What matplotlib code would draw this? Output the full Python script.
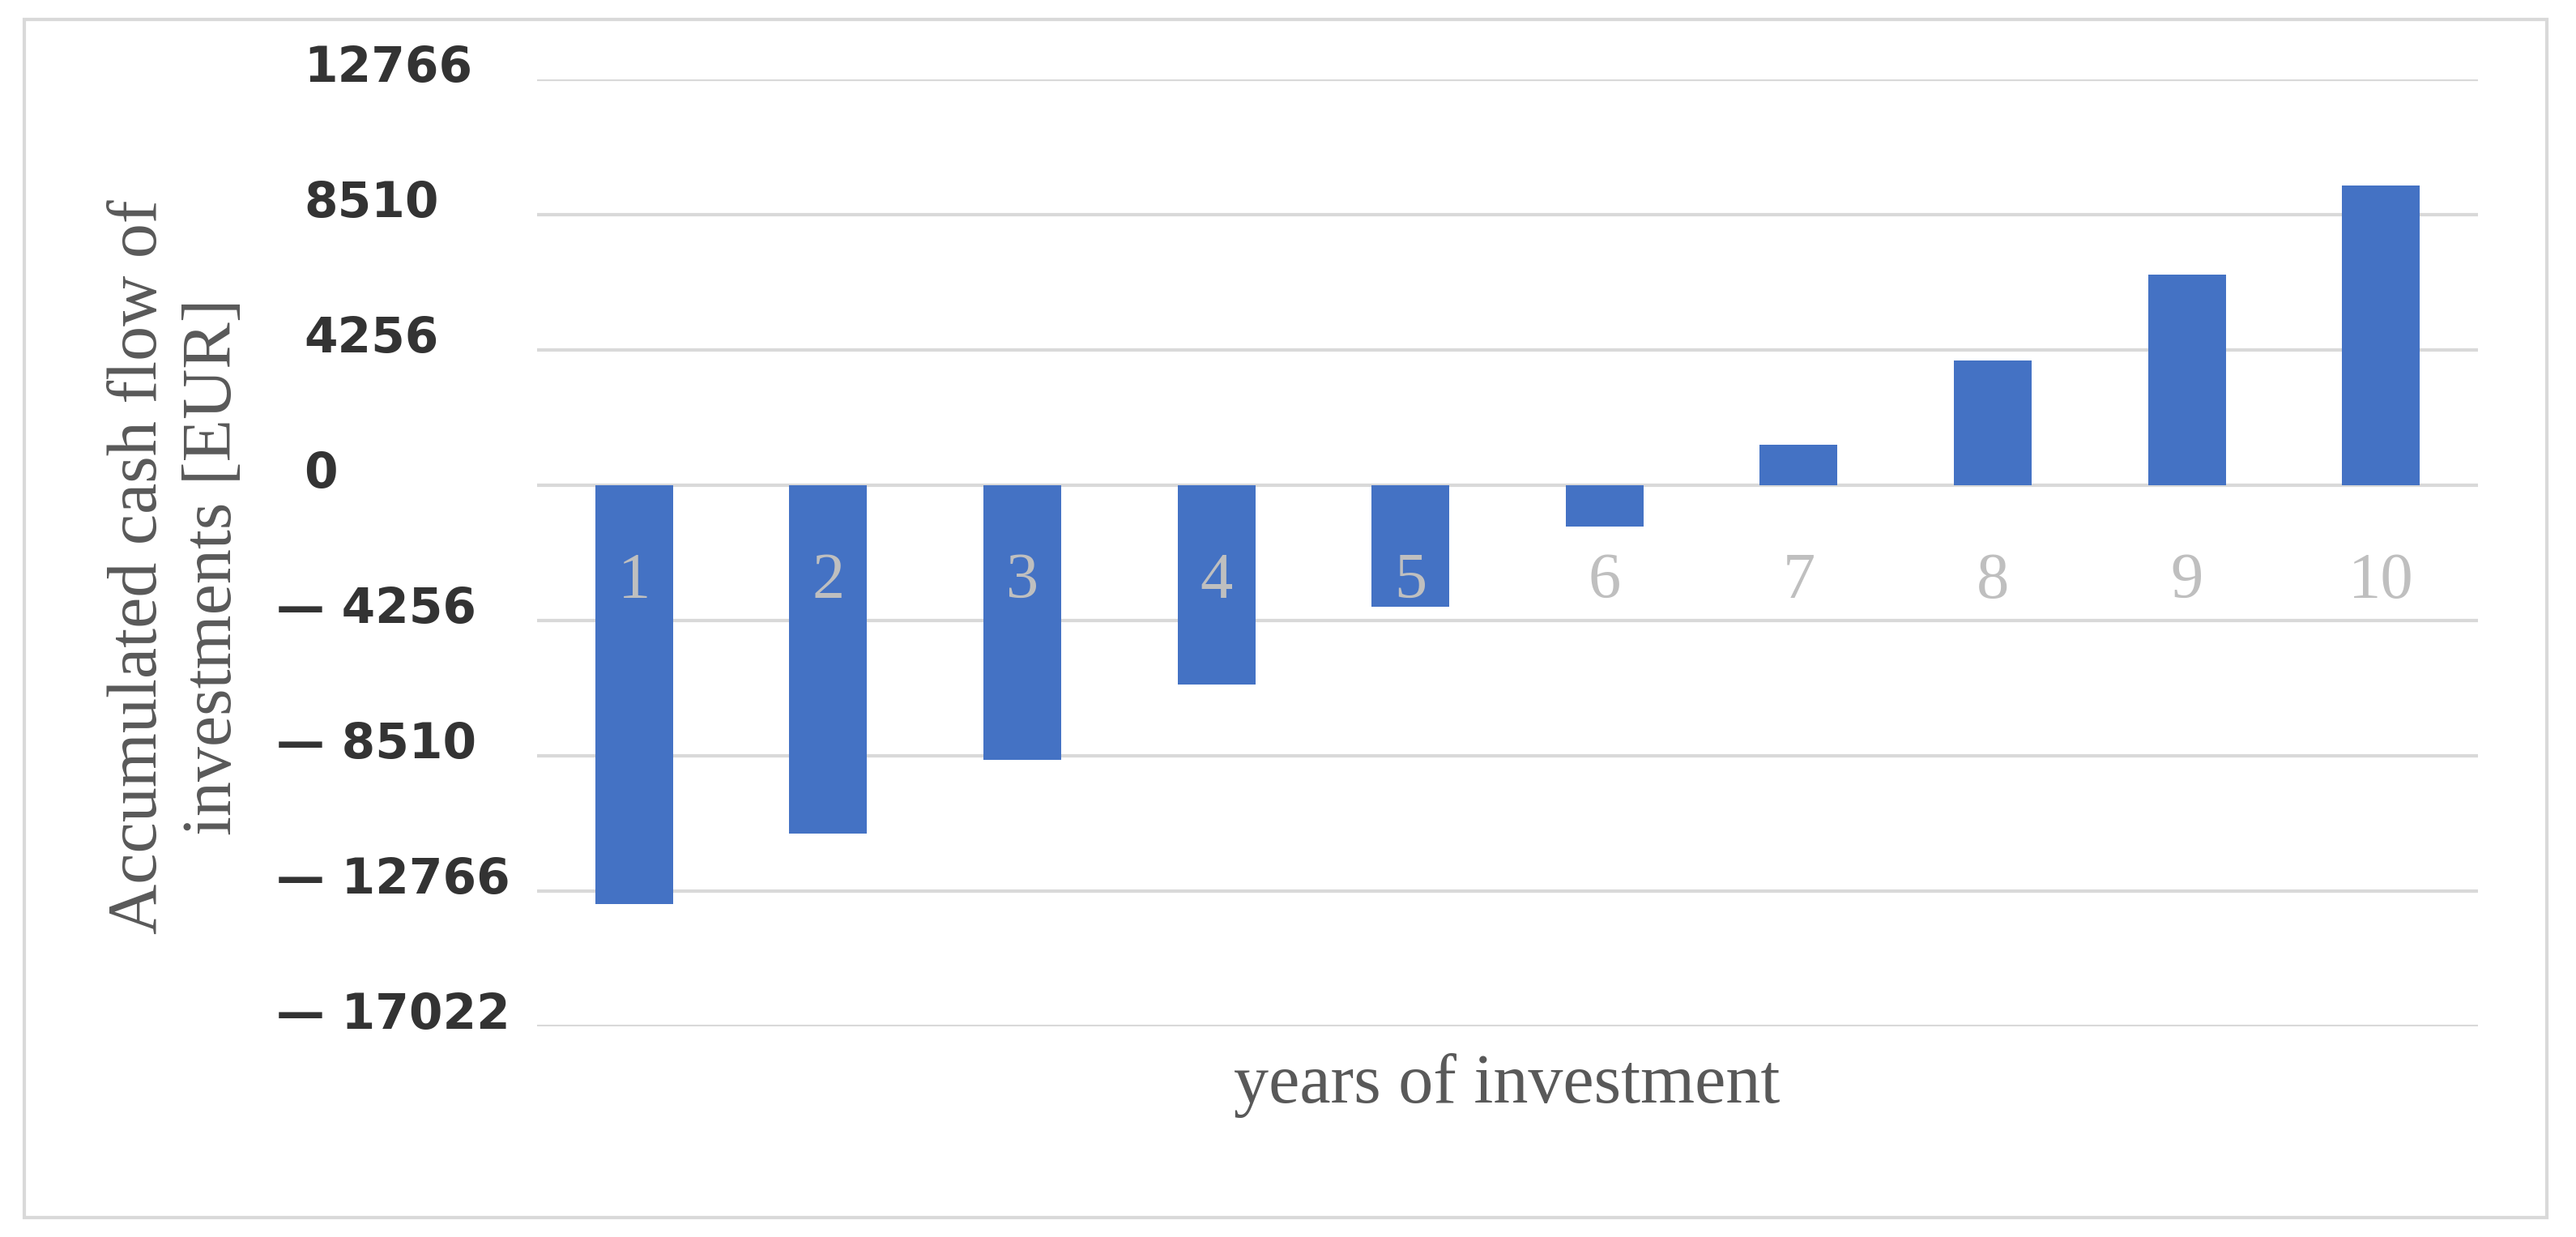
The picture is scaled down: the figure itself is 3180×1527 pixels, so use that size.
import matplotlib
matplotlib.use('Agg')
import matplotlib.pyplot as plt
import matplotlib.transforms as mtransforms
from matplotlib.patches import Rectangle

years = [1, 2, 3, 4, 5, 6, 7, 8, 9, 10]
cash_flow = [-13190, -10960, -8640, -6270, -3830, -1320, 1260, 3910, 6610, 9410]
y_ticks = [12766, 8510, 4256, 0, -4256, -8510, -12766, -17022]

fig = plt.figure(figsize=(31.8, 15.27), dpi=100)
ax = fig.add_axes([663 / 3180, 1 - 1266.7 / 1527, (3059 - 663) / 3180, (1266.7 - 97.7) / 1527])

x = list(range(len(years)))
ax.bar(x, cash_flow, width=0.4, color='#4472C4', zorder=1)
ax.hlines(y_ticks, -0.5, len(years) - 0.5, colors='#D9D9D9', linewidth=3, zorder=0.5)
ax.set_axisbelow(False)  # category labels must sit on top of the bars

ax.set_xlim(-0.5, len(years) - 0.5)
ax.set_ylim(min(y_ticks), max(y_ticks))

for s in ax.spines.values():
	s.set_visible(False)
ax.spines['bottom'].set_position(('data', 0))

# category labels hang under the zero line, inside the bars
ax.set_xticks(x)
ax.set_xticklabels([str(y) for y in years], family='Liberation Serif', fontsize=58, color='#BFBFBF')
ax.tick_params(axis='x', length=0, pad=60)
ax.set_yticks([])

# value labels left of the plot, left aligned
trans = mtransforms.blended_transform_factory(fig.transFigure, ax.transData)
trans = trans + mtransforms.ScaledTranslation(0, 0.13, fig.dpi_scale_trans)
for t in y_ticks:
	if t < 0:
		ax.text(341 / 3180, t, '\u2014 ' + str(-t), transform=trans, ha='left', va='center',
				fontsize=43, fontweight='bold', color='#333333', family='DejaVu Sans')
	else:
		ax.text(375 / 3180, t, str(t), transform=trans, ha='left', va='center',
				fontsize=43, fontweight='bold', color='#333333', family='DejaVu Sans')

fig.text(0.0686, 1 - 700 / 1527, 'Accumulated cash flow of\ninvestments [EUR]', rotation=90,
		 ha='center', va='center', multialignment='center', family='Liberation Serif',
		 fontsize=62, color='#595959')
fig.text(1860 / 3180, 1 - 1340 / 1527, 'years of investment', ha='center', va='center',
		 family='Liberation Serif', fontsize=62, color='#595959')

# outer frame
fig.patches.append(Rectangle((30 / 3180, 1 - 1503 / 1527), (3144 - 30) / 3180, (1503 - 24) / 1527,
							 transform=fig.transFigure, fill=False, edgecolor='#D9D9D9', linewidth=3))

fig.savefig('out.png', dpi=100)
